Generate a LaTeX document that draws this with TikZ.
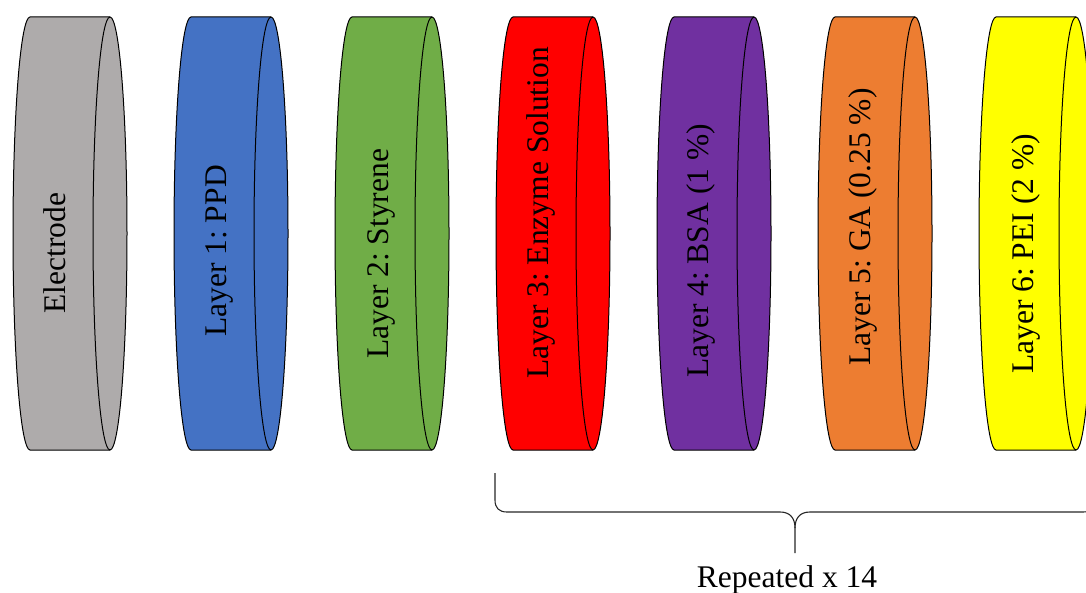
\documentclass[tikz,border=0pt]{standalone}
\usepackage{fontspec}
\setmainfont{Liberation Serif}
\frenchspacing
\definecolor{cgray}{HTML}{AEABAB}
\definecolor{cblue}{HTML}{4472C4}
\definecolor{cgreen}{HTML}{70AD47}
\definecolor{cred}{HTML}{FF0000}
\definecolor{cpurple}{HTML}{7030A0}
\definecolor{corange}{HTML}{ED7D31}
\definecolor{cyellow}{HTML}{FFFF00}
\newcommand\layerdisk[2]{%
  \filldraw[fill=#2,disk outline] (#1,575) -- (#1+80,575)
    arc[start angle=90,end angle=-90,x radius=17,y radius=216.5]
    -- (#1,142)
    arc[start angle=270,end angle=90,x radius=17,y radius=216.5] -- cycle;
  \draw[disk outline] (#1+80,575)
    arc[start angle=90,end angle=270,x radius=17,y radius=216.5];
}
\begin{document}
\frenchspacing
\begin{tikzpicture}[x=1pt,y=1pt,
  disk outline/.style={draw=black,line width=1pt},
  disklabel/.style={rotate=90,anchor=base,inner sep=0pt,font=\fontsize{31.5}{36}\selectfont},
  bracepath/.style={draw=black!85,line width=1.1pt,line join=round}]
\useasboundingbox (0,0) rectangle (1086,592);
\layerdisk{30}{cgray}
\layerdisk{191}{cblue}
\layerdisk{352}{cgreen}
\layerdisk{513}{cred}
\layerdisk{674}{cpurple}
\layerdisk{835}{corange}
\layerdisk{996}{cyellow}
\node[disklabel] (electrode) at (65,339) {Electrode};
\node[disklabel] (l1) at (226,341) {Layer 1: PPD};
\node[disklabel] (l2) at (388,338) {Layer 2: Styrene};
\node[disklabel] (l3) at (548,379) {Layer 3: Enzyme Solution};
\node[disklabel] (l4) at (708,341) {Layer 4: BSA (1 \%)};
\node[disklabel] (l5) at (870,365) {Layer 5: GA (0.25 \%)};
\node[disklabel] (l6) at (1033,338) {Layer 6: PEI (2 \%)};
\coordinate (bl) at (495,119);
\coordinate (btip) at (795,39);
\coordinate (br) at (1095,119);
\draw[bracepath] (bl) -- (495,92) .. controls (495,84) and (499,80) .. (507,80)
  -- (780,80) .. controls (790,80) and (795,74) .. (795,64) -- (btip);
\draw[bracepath] (795,64) .. controls (795,74) and (800,80) .. (810,80)
  -- (1083,80) .. controls (1091,80) and (1095,84) .. (1095,92) -- (br);
\node[anchor=base,inner sep=0pt,font=\fontsize{31.5}{36}\selectfont] (rep) at (787,5) {Repeated x 14};
\end{tikzpicture}
\end{document}
